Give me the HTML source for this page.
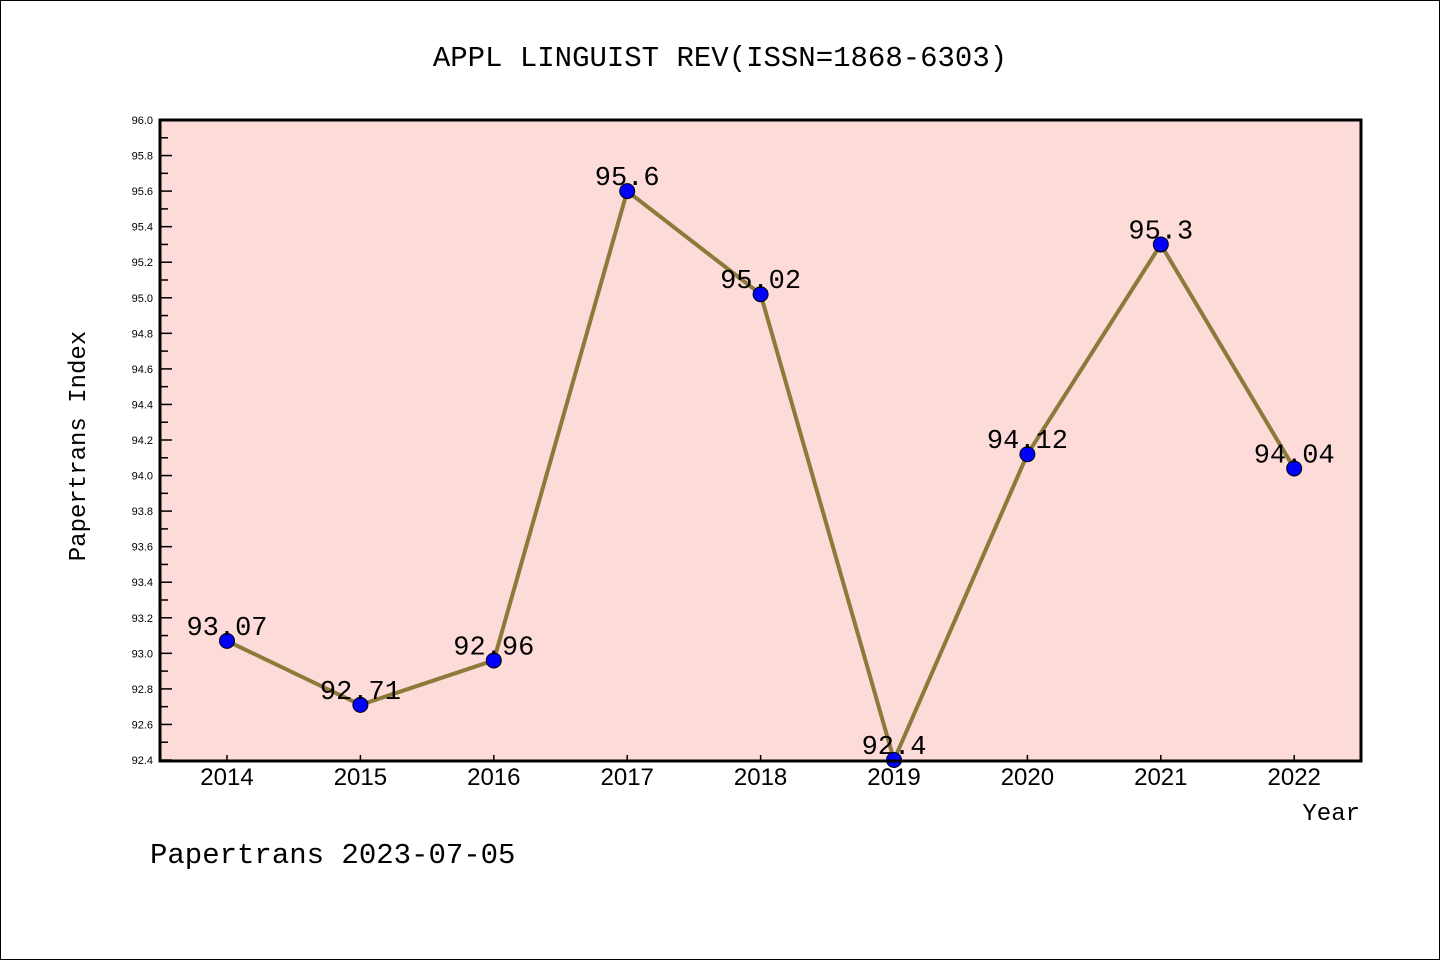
<!DOCTYPE html>
<html><head><meta charset="utf-8"><style>
body{margin:0;background:#fff}
svg{display:block;font-family:"Liberation Mono","DejaVu Sans Mono",monospace}
</style></head><body>
<svg id="chart" width="1440" height="960" xmlns="http://www.w3.org/2000/svg">
<rect x="0.5" y="0.5" width="1439" height="959" fill="#fff" stroke="#000" stroke-width="1"/>
<text x="720" y="66" text-anchor="middle" font-size="29">APPL LINGUIST REV(ISSN=1868-6303)</text>
<rect x="160" y="120" width="1201" height="641" fill="#fddbd8"/>
<g id="yaxis"></g>
<g id="xaxis"></g>
<g id="series"></g>
<rect x="160" y="120" width="1201" height="641" fill="none" stroke="#000" stroke-width="3"/>
<text x="0" y="0" transform="translate(85,446) rotate(-90)" text-anchor="middle" font-size="24">Papertrans Index</text>
<text x="1360" y="820" text-anchor="end" font-size="24">Year</text>
<text x="150" y="863" font-size="29">Papertrans 2023-07-05</text>
</svg>
<script>
const years = ["2014","2015","2016","2017","2018","2019","2020","2021","2022"];
const values = [93.07,92.71,92.96,95.6,95.02,92.4,94.12,95.3,94.04];
const valueLabels = ["93.07","92.71","92.96","95.6","95.02","92.4","94.12","95.3","94.04"];
const yTicks = ["92.4","92.6","92.8","93.0","93.2","93.4","93.6","93.8","94.0","94.2","94.4","94.6","94.8","95.0","95.2","95.4","95.6","95.8","96.0"];
const yMin=92.4,yMax=96.0,plotTop=120,plotBot=760;
const ns="http://www.w3.org/2000/svg";
function y(v){return plotBot-(v-yMin)/(yMax-yMin)*(plotBot-plotTop);}
function x(i){return 227+i*133.4;}
function mk(t,a,p){const e=document.createElementNS(ns,t);for(const k in a)e.setAttribute(k,a[k]);p.appendChild(e);return e;}
const ya=document.getElementById('yaxis'),xa=document.getElementById('xaxis'),se=document.getElementById('series');
yTicks.forEach((t,i)=>{const v=parseFloat(t);const yy=y(v);
const l=mk('line',{x1:160,x2:172,y1:yy,y2:yy,stroke:'#000','stroke-width':1.5},ya);


const tx=mk('text',{x:153,y:yy+4,'text-anchor':'end','font-size':11,'font-family':'Liberation Sans, sans-serif'},ya);tx.textContent=t;


if(i<yTicks.length-1){const ym=y(v+0.1);const m=mk('line',{x1:160,x2:168,y1:ym,y2:ym,stroke:'#000','stroke-width':1.5},ya);

}
});
years.forEach((t,i)=>{const xx=x(i);
const l=mk('line',{x1:xx,x2:xx,y1:761,y2:755,stroke:'#000','stroke-width':1.5},xa);


const tx=mk('text',{x:xx,y:785,'text-anchor':'middle','font-size':24,'font-family':'Liberation Sans, sans-serif'},xa);tx.textContent=t;


});
const pts=values.map((v,i)=>x(i)+','+y(v)).join(' ');
const pl=mk('polyline',{points:pts,fill:'none',stroke:'#8b7a3a','stroke-width':4},se);


values.forEach((v,i)=>{
const c=mk('circle',{cx:x(i),cy:y(v),r:7.5,fill:'#0000ff',stroke:'#000','stroke-width':1},se);


const tx=mk('text',{x:x(i),y:y(v)-6,'text-anchor':'middle','font-size':27},se);tx.textContent=valueLabels[i];


});
</script>
</body></html>
